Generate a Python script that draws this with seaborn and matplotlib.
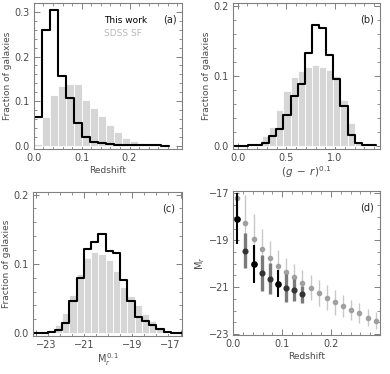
import numpy as np
import pandas as pd
import matplotlib
matplotlib.use("Agg")
import matplotlib.pyplot as plt
from matplotlib.ticker import MultipleLocator
import seaborn as sns

# ── data ─────────────────────────────────────────────────────────────────────
# (a) redshift histograms, bins of 1/60
z_edges = np.arange(0, 18) / 60.0
work_z = [0.064, 0.26, 0.305, 0.157, 0.107, 0.05, 0.02, 0.008, 0.005, 0.003,
          0.0025, 0.002, 0.0015, 0.001, 0.001, 0.001, 0.0]
sdss_z = [0.004, 0.064, 0.114, 0.133, 0.138, 0.138, 0.103, 0.085, 0.066, 0.046,
          0.03, 0.018, 0.01, 0.005, 0.003, 0.001, 0.0]

# (b) colour histograms
gr_edges = np.round(-0.04 + 0.073 * np.arange(21), 3)
work_gr = [0.0, 0.0005, 0.001, 0.002, 0.004, 0.015, 0.024, 0.044, 0.071, 0.088,
           0.133, 0.173, 0.168, 0.13, 0.096, 0.057, 0.016, 0.005, 0.002, 0.001]
sdss_gr = [0.0, 0.0, 0.0, 0.004, 0.015, 0.027, 0.052, 0.078, 0.098, 0.107,
           0.113, 0.115, 0.113, 0.108, 0.1, 0.065, 0.033, 0.006, 0.001, 0.0]

# (c) absolute magnitude histograms
mr_edges = np.round(-23.1 + 0.3 * np.arange(22), 2)
work_mr = [0.0, 0.0, 0.001, 0.004, 0.014, 0.047, 0.079, 0.122, 0.131, 0.143,
           0.119, 0.115, 0.077, 0.047, 0.023, 0.018, 0.011, 0.006, 0.002, 0.0,
           0.0]
sdss_mr = [0.0, 0.0, 0.0, 0.011, 0.029, 0.055, 0.086, 0.109, 0.117, 0.114,
           0.105, 0.09, 0.067, 0.054, 0.04, 0.027, 0.017, 0.009, 0.0015, 0.0,
           0.0]

# (d) mean M_r per redshift bin
z_mid = (np.arange(18) + 0.5) / 60.0
sdss_M = [-17.21, -18.28, -18.93, -19.36, -19.75, -20.1, -20.35, -20.57, -20.84,
          -21.02, -21.24, -21.45, -21.65, -21.8, -21.98, -22.12, -22.3, -22.44]
sdss_err = [0.9, 1.2, 1.05, 0.85, 0.7, 0.68, 0.6, 0.55, 0.55, 0.55, 0.55, 0.53,
            0.52, 0.47, 0.43, 0.42, 0.38, 0.36]
grey_idx = [1, 3, 4, 6, 7, 8]
grey_M = [-19.45, -20.4, -20.65, -21.04, -21.14, -21.3]
grey_err = [0.75, 0.75, 0.66, 0.58, 0.47, 0.36]
black_idx = [0, 2, 5]
black_M = [-18.07, -20.02, -20.85]
black_err = [1.1, 0.82, 0.57]

# ── style ────────────────────────────────────────────────────────────────────
sns.set_style("ticks")
plt.rcParams['font.family'] = ['DejaVu Sans']
FRAME = '#808080'
TXT = '#4a4a4a'
BAR = '#d6d6d6'
FS = 6.5

fig = plt.figure(figsize=(3.9, 3.74), dpi=100)
ax_a = fig.add_axes([0.087, 0.602, 0.380, 0.390])
ax_b = fig.add_axes([0.598, 0.602, 0.376, 0.390])
ax_c = fig.add_axes([0.085, 0.102, 0.381, 0.385])
ax_d = fig.add_axes([0.598, 0.104, 0.376, 0.385])


def hist_pair(ax, edges, work, sdss):
    edges = [float(e) for e in edges]
    mids = [(edges[i] + edges[i + 1]) / 2 for i in range(len(edges) - 1)]
    df = pd.DataFrame({'x': mids, 'work': work, 'sdss': sdss})
    sns.histplot(data=df, x='x', weights='sdss', bins=edges, stat='count', ax=ax,
                 color=BAR, edgecolor='white', linewidth=0.6, alpha=1.0)
    sns.histplot(data=df, x='x', weights='work', bins=edges, stat='count', ax=ax,
                 element='step', fill=False, color='black', linewidth=1.5)


def style(ax, xmaj, xmin, ymaj, ymin, label):
    for s in ax.spines.values():
        s.set_color(FRAME)
        s.set_linewidth(0.8)
    ax.xaxis.set_major_locator(MultipleLocator(xmaj))
    ax.xaxis.set_minor_locator(MultipleLocator(xmin))
    ax.yaxis.set_major_locator(MultipleLocator(ymaj))
    ax.yaxis.set_minor_locator(MultipleLocator(ymin))
    ax.tick_params(which='both', direction='in', top=True, right=True,
                   color=FRAME, labelsize=FS + 0.5, labelcolor=TXT, pad=3)
    ax.tick_params(which='major', length=4, width=0.7)
    ax.tick_params(which='minor', length=2, width=0.6)
    ax.text(0.915, 0.885, label, transform=ax.transAxes, fontsize=FS + 0.5,
            color='#222222', ha='center', va='center')


# (a)
hist_pair(ax_a, z_edges, work_z, sdss_z)
ax_a.set_xlim(0, 0.31)
ax_a.set_ylim(-0.007, 0.32)
style(ax_a, 0.1, 0.02, 0.1, 0.02, '(a)')
ax_a.set_xticks([0.0, 0.1, 0.2])
ax_a.set_xlabel('Redshift', fontsize=FS, color=TXT, labelpad=2)
ax_a.set_ylabel('Fraction of galaxies', fontsize=FS, color=TXT, labelpad=2)
ax_a.text(0.47, 0.88, 'This work', transform=ax_a.transAxes, fontsize=FS,
          color='black', va='center')
ax_a.text(0.47, 0.79, 'SDSS SF', transform=ax_a.transAxes, fontsize=FS,
          color='#b8b8b8', va='center')

# (b)
hist_pair(ax_b, gr_edges, work_gr, sdss_gr)
ax_b.set_xlim(-0.045, 1.46)
ax_b.set_ylim(-0.004, 0.204)
style(ax_b, 0.5, 0.1, 0.1, 0.02, '(b)')
ax_b.set_xticks([0.0, 0.5, 1.0])
ax_b.set_xlabel(r'$(g\;-\;r)^{0.1}$', fontsize=FS + 1, color=TXT, labelpad=1)
ax_b.set_ylabel('Fraction of galaxies', fontsize=FS, color=TXT, labelpad=2)

# (c)
hist_pair(ax_c, mr_edges, work_mr, sdss_mr)
ax_c.set_xlim(-23.1, -16.95)
ax_c.set_ylim(-0.004, 0.204)
style(ax_c, 2, 0.5, 0.1, 0.02, '(c)')
ax_c.set_xticks([-23, -21, -19, -17])
ax_c.set_xlabel(r'$\mathrm{M}_r^{\,0.1}$', fontsize=FS + 0.5, color=TXT, labelpad=1)
ax_c.set_ylabel('Fraction of galaxies', fontsize=FS, color=TXT, labelpad=2)
c_labels = ax_c.get_xticklabels()
c_labels[0].set_ha('left')
c_labels[-1].set_ha('right')

# (d)
ax_d.errorbar(z_mid, sdss_M, yerr=sdss_err, fmt='o', ms=3.0, color='#a0a0a0',
              ecolor='#c8c8c8', elinewidth=1.0, capsize=0, zorder=2)
ax_d.errorbar(z_mid[grey_idx], grey_M, yerr=grey_err, fmt='o', ms=3.4,
              color='#333333', ecolor='#7a7a7a', elinewidth=2.4, capsize=0, zorder=3)
ax_d.errorbar(z_mid[black_idx], black_M, yerr=black_err, fmt='o', ms=3.8,
              color='black', ecolor='black', elinewidth=1.5, capsize=0, zorder=4)
ax_d.set_xlim(0, 0.3)
ax_d.set_ylim(-23.05, -16.9)
style(ax_d, 0.1, 0.02, 2, 0.5, '(d)')
ax_d.set_xticks([0.0, 0.1, 0.2])
ax_d.set_yticks([-17, -19, -21, -23])
ax_d.set_xlabel('Redshift', fontsize=FS, color=TXT, labelpad=2)
ax_d.set_ylabel(r'$\mathrm{M}_r$', fontsize=FS + 0.5, color=TXT, labelpad=1)

for ax in (ax_a, ax_b, ax_c):
    ax.set_yticks([0.0, 0.1, 0.2] + ([0.3] if ax is ax_a else []))
    ax.yaxis.set_major_formatter(plt.FormatStrFormatter('%.1f'))
for ax in (ax_a, ax_b, ax_d):
    ax.xaxis.set_major_formatter(plt.FormatStrFormatter('%.1f'))

fig.savefig('out.png', dpi=100)
